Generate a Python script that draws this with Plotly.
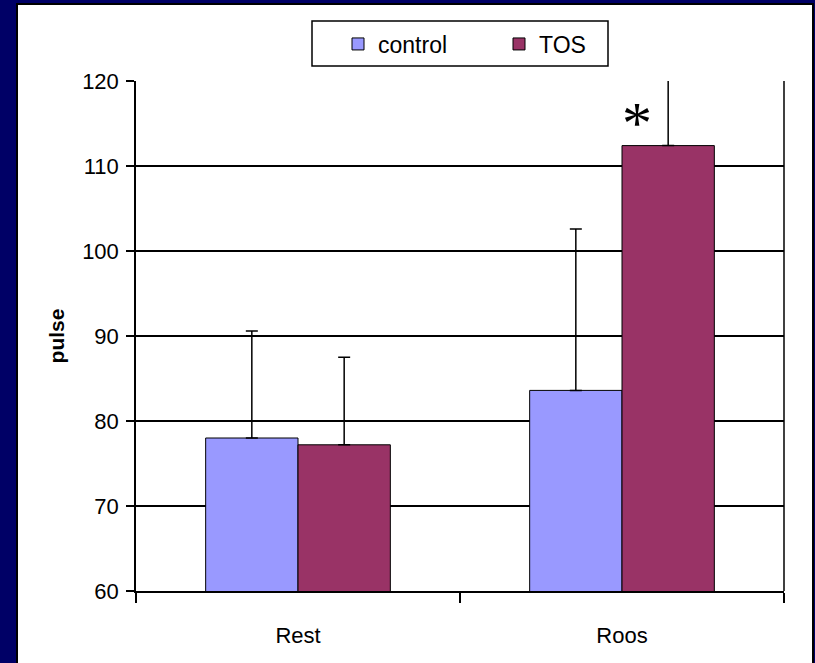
import plotly.graph_objects as go

categories = ["Rest", "Roos"]
control_values = [78.0, 83.6]
control_errors = [12.6, 19.0]
tos_values = [77.2, 112.4]
tos_errors = [10.3, 9.0]
y_ticks = [60, 70, 80, 90, 100, 110, 120]
star_label = "*"
star_category = "Roos"
star_y = 115.8

W, H = 815, 663
L, R, T, B = 136, 31, 81, 72
PW, PH = W - L - R, H - T - B


def px_x(p):
    return (p - L) / PW


def px_y(p):
    return 1 - (p - T) / PH


fig = go.Figure()
fig.add_trace(go.Bar(
    name="control", x=categories, y=control_values,
    marker=dict(color="#9999FF", line=dict(color="black", width=1)),
    error_y=dict(type="data", array=control_errors, symmetric=False,
                 arrayminus=[0, 0], color="black", thickness=1.5, width=6),
))
fig.add_trace(go.Bar(
    name="TOS", x=categories, y=tos_values,
    marker=dict(color="#993366", line=dict(color="black", width=1)),
    error_y=dict(type="data", array=tos_errors, symmetric=False,
                 arrayminus=[0, 0], color="black", thickness=1.5, width=6),
))

fig.add_annotation(x=star_category, y=star_y, text=star_label, showarrow=False,
                   xshift=15, yshift=-6,
                   font=dict(family="Liberation Serif", size=60, color="black"),
                   yanchor="middle")

shapes = [
    dict(type="rect", xref="paper", yref="paper", layer="below",
         x0=px_x(17), x1=px_x(813), y0=px_y(4), y1=px_y(H + 5),
         fillcolor="white", line=dict(color="black", width=2)),
    dict(type="rect", xref="paper", yref="paper", layer="above",
         x0=px_x(312), x1=px_x(608), y0=px_y(21), y1=px_y(66),
         fillcolor="white", line=dict(color="black", width=1.5)),
    dict(type="line", xref="paper", yref="paper", layer="above",
         x0=1, x1=1, y0=0, y1=1, line=dict(color="black", width=1.5)),
]

fig.update_layout(
    width=W, height=H,
    margin=dict(l=L, r=R, t=T, b=B, pad=0),
    paper_bgcolor="#000066",
    plot_bgcolor="rgba(0,0,0,0)",
    barmode="group", bargap=0.43, bargroupgap=0,
    font=dict(family="Liberation Sans, Arial", color="black"),
    shapes=shapes,
    showlegend=True,
    legend=dict(orientation="h", x=px_x(338), y=px_y(44), xanchor="left", yanchor="middle",
                bgcolor="rgba(0,0,0,0)", borderwidth=0,
                font=dict(size=23, family="Liberation Sans, Arial"),
                itemwidth=30, entrywidth=116, traceorder="normal"),
    xaxis=dict(type="category", showline=True, linecolor="black", linewidth=1.5,
               ticks="outside", tickson="boundaries", ticklen=10, tickcolor="black",
               tickwidth=1.5, tickfont=dict(size=22), showgrid=False, mirror=False,
               ticklabelstandoff=24),
    yaxis=dict(range=[60, 120], tickvals=y_ticks, showline=True, linecolor="black",
               linewidth=1.5, ticks="outside", ticklen=8, tickcolor="black", tickwidth=1.5,
               showgrid=True, gridcolor="black", gridwidth=1.5, zeroline=False,
               tickfont=dict(size=22), ticklabelstandoff=3,
               title=dict(text="<b>pulse</b>", font=dict(size=21), standoff=12)),
)

fig.write_html("out.html", config={"displayModeBar": False},
               post_script="document.body.style.margin='0';")
